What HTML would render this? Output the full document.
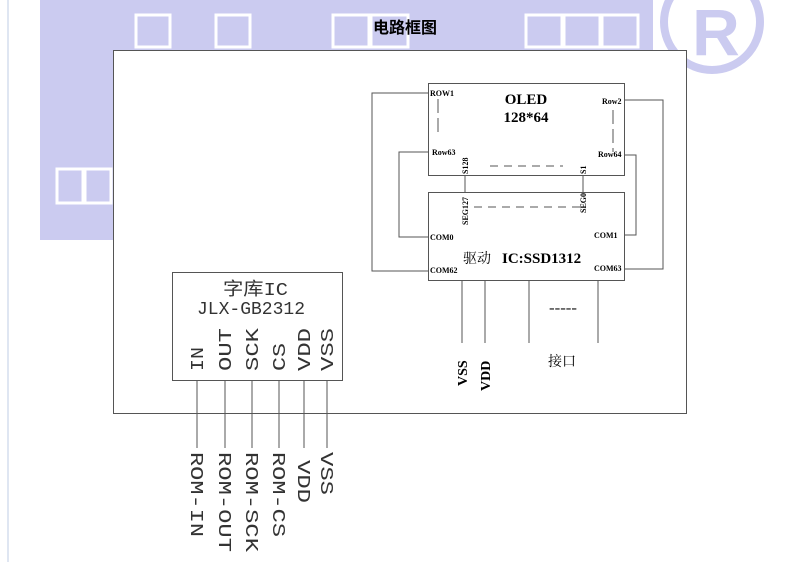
<!DOCTYPE html>
<html><head><meta charset="utf-8"><style>
html,body{margin:0;padding:0;background:#fff;}
svg{display:block;}
</style></head><body>
<svg width="795" height="562" viewBox="0 0 795 562" xmlns="http://www.w3.org/2000/svg">
<rect x="0" y="0" width="795" height="562" fill="#fff"/>
<line x1="8" y1="0" x2="8" y2="562" stroke="#dfe6f2" stroke-width="2"/>
<!-- watermark -->
<rect x="40" y="0" width="613" height="240" fill="#cbcbf0"/>
<g fill="none" stroke="#fff" stroke-width="3">
<rect x="136" y="15" width="34" height="32"/>
<rect x="216" y="15" width="34" height="32"/>
<rect x="333" y="15" width="36" height="32"/>
<rect x="371" y="15" width="37" height="32"/>
<rect x="526" y="15" width="36" height="32"/>
<rect x="564" y="15" width="36" height="32"/>
<rect x="602" y="15" width="36" height="32"/>
<rect x="57" y="169" width="26" height="34"/>
<rect x="85" y="169" width="26" height="34"/>
</g>
<circle cx="712" cy="22" r="48" fill="none" stroke="#cbcbf0" stroke-width="8"/>
<text x="716" y="55" text-anchor="middle" font-family="Liberation Sans, sans-serif" font-weight="bold" font-size="66" fill="#cbcbf0">R</text>
<text x="405" y="33" text-anchor="middle" font-family="Liberation Sans, Noto Sans CJK SC, sans-serif" font-weight="bold" font-size="16" fill="#000">电路框图</text>
<!-- main rect -->
<rect x="113.5" y="50.5" width="573" height="363" fill="#fff" stroke="#555" stroke-width="1"/>
<g fill="none" stroke="#555" stroke-width="1">
<rect x="428.5" y="83.5" width="196" height="92"/>
<rect x="428.5" y="192.5" width="196" height="88"/>
<polyline points="428,93 372,93 372,271 428,271"/>
<polyline points="428,152 399,152 399,237 428,237"/>
<polyline points="624,100 663,100 663,269 624,269"/>
<polyline points="624,155 636,155 636,235 624,235"/>
<line x1="465" y1="176" x2="465" y2="192"/>
<line x1="583" y1="176" x2="583" y2="192"/>
<line x1="462" y1="281" x2="462" y2="343"/>
<line x1="485" y1="281" x2="485" y2="343"/>
<line x1="529" y1="281" x2="529" y2="343"/>
<line x1="598" y1="281" x2="598" y2="343"/>
<line x1="490" y1="166" x2="563" y2="166" stroke-dasharray="8,6"/>
<line x1="474" y1="207" x2="583" y2="207" stroke-dasharray="8,6"/>
<line x1="438" y1="99" x2="438" y2="136" stroke-dasharray="14,5"/>
<line x1="613" y1="110" x2="613" y2="152" stroke-dasharray="14,5"/>
<rect x="172.5" y="272.5" width="170" height="108"/>
<line x1="197" y1="381" x2="197" y2="448"/>
<line x1="225" y1="381" x2="225" y2="448"/>
<line x1="252" y1="381" x2="252" y2="448"/>
<line x1="279" y1="381" x2="279" y2="448"/>
<line x1="304" y1="381" x2="304" y2="448"/>
<line x1="327" y1="381" x2="327" y2="448"/>
</g>
<g font-family="Liberation Serif, Noto Serif CJK SC, serif" font-weight="bold" fill="#000">
<text x="430" y="96" font-size="8">ROW1</text>
<text x="432" y="155" font-size="8">Row63</text>
<text x="602" y="104" font-size="8">Row2</text>
<text x="598" y="157" font-size="8">Row64</text>
<text x="430" y="240" font-size="8">COM0</text>
<text x="430" y="273" font-size="8">COM62</text>
<text x="594" y="238" font-size="8">COM1</text>
<text x="594" y="271" font-size="8">COM63</text>
<text x="526" y="104" font-size="15" text-anchor="middle">OLED</text>
<text x="526" y="122" font-size="15" text-anchor="middle">128*64</text>
<text transform="translate(468,174) rotate(-90)" font-size="8">S128</text>
<text transform="translate(586,174) rotate(-90)" font-size="8">S1</text>
<text transform="translate(468,225) rotate(-90)" font-size="8">SEG127</text>
<text transform="translate(586,213) rotate(-90)" font-size="8">SEG0</text>
<text x="502" y="263" font-size="15">IC:SSD1312</text>
<text transform="translate(467,386) rotate(-90)" font-size="14">VSS</text>
<text transform="translate(490,391) rotate(-90)" font-size="14">VDD</text>
</g>
<g font-family="Liberation Serif, Noto Serif CJK SC, serif" fill="#000">
<text x="463" y="263" font-size="14">驱动</text>
<text x="548" y="366" font-size="14">接口</text>
<text x="549" y="312" font-size="13" font-weight="bold" textLength="28" lengthAdjust="spacingAndGlyphs">-----</text>
</g>
<g font-family="Liberation Mono, Noto Sans CJK SC, monospace" fill="#333" font-size="18" lengthAdjust="spacingAndGlyphs">
<text x="223" y="295" font-size="18" textLength="65" lengthAdjust="spacingAndGlyphs">字库IC</text>
<text x="197" y="314" font-size="18" textLength="108" lengthAdjust="spacingAndGlyphs">JLX-GB2312</text>
<text transform="translate(203,371) rotate(-90)" textLength="24" lengthAdjust="spacingAndGlyphs">IN</text>
<text transform="translate(231,371) rotate(-90)" textLength="43" lengthAdjust="spacingAndGlyphs">OUT</text>
<text transform="translate(258,371) rotate(-90)" textLength="43" lengthAdjust="spacingAndGlyphs">SCK</text>
<text transform="translate(285,371) rotate(-90)" textLength="28" lengthAdjust="spacingAndGlyphs">CS</text>
<text transform="translate(310,371) rotate(-90)" textLength="43" lengthAdjust="spacingAndGlyphs">VDD</text>
<text transform="translate(333,371) rotate(-90)" textLength="43" lengthAdjust="spacingAndGlyphs">VSS</text>
<text transform="translate(191,452) rotate(90)" textLength="85" lengthAdjust="spacingAndGlyphs">ROM-IN</text>
<text transform="translate(219,452) rotate(90)" textLength="100" lengthAdjust="spacingAndGlyphs">ROM-OUT</text>
<text transform="translate(246,452) rotate(90)" textLength="100" lengthAdjust="spacingAndGlyphs">ROM-SCK</text>
<text transform="translate(273,452) rotate(90)" textLength="85" lengthAdjust="spacingAndGlyphs">ROM-CS</text>
<text transform="translate(298,460) rotate(90)" textLength="43" lengthAdjust="spacingAndGlyphs">VDD</text>
<text transform="translate(321,452) rotate(90)" textLength="43" lengthAdjust="spacingAndGlyphs">VSS</text>
</g>
</svg>
</body></html>
